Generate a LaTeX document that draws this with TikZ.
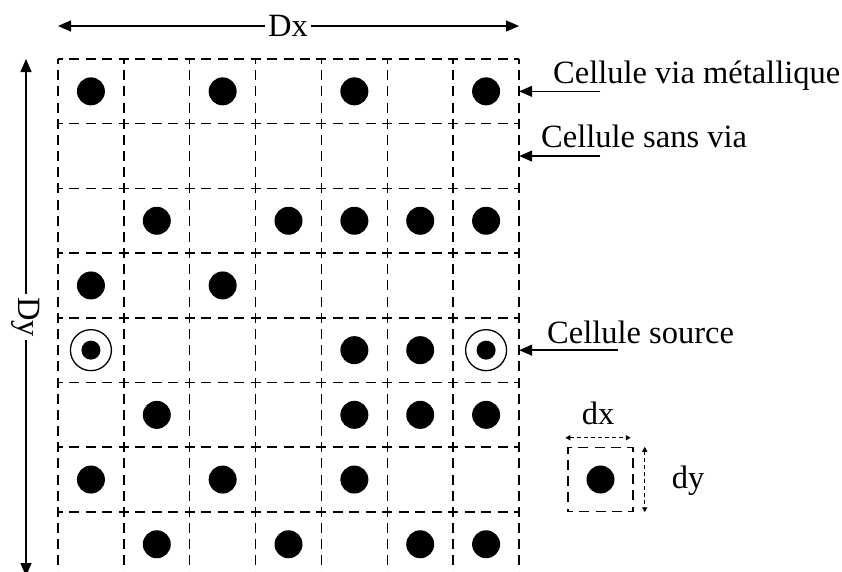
\documentclass[tikz,border=0pt]{standalone}
\usepackage{fontspec}
\setmainfont{Liberation Serif}
\usetikzlibrary{arrows.meta}

\begin{document}
\begin{tikzpicture}[x=1pt,y=-1pt,
  cell/.style={minimum width=65.86pt,minimum height=64.7pt,inner sep=0pt},
  trait h/.style={line width=1.5pt,dash pattern=on 10pt off 6.465pt,dash phase=5pt},
  trait v/.style={line width=1.5pt,dash pattern=on 10pt off 6.175pt,dash phase=5pt},
  via/.style={circle,fill=black,inner sep=0pt,minimum size=28pt},
  source/.style={circle,draw,line width=1.3pt,inner sep=0pt,minimum size=41pt},
  lbl/.style={font=\fontsize{32.5}{38}\selectfont,inner sep=0pt},
  fleche/.style={-{Triangle[length=13pt,width=11pt]},line width=1.5pt},
  cote/.style={{Triangle[length=5pt,width=5pt]}-{Triangle[length=5pt,width=5pt]},dash pattern=on 4pt off 3pt,line width=1.2pt}]
\useasboundingbox (0,0) rectangle (842,571);
\clip (0,0) rectangle (842,571);

% grille des cellules
\foreach \r in {1,...,8}
  \foreach \c in {1,...,7}
    \node[cell] (c-\r-\c) at ({58+65.86*(\c-0.5)},{59+64.7*(\r-0.5)}) {};
\foreach \r in {0,...,8}
  \draw[trait h] (58,{59+64.7*\r}) -- (519,{59+64.7*\r});
\foreach \c in {0,...,7}
  \draw[trait v] ({58+65.86*\c},59) -- ({58+65.86*\c},576.6);

% vias metalliques
\foreach \r/\c in {1/1,1/3,1/5,1/7, 3/2,3/4,3/5,3/6,3/7, 4/1,4/3, 5/5,5/6,
                   6/2,6/5,6/6,6/7, 7/1,7/3,7/5, 8/2,8/4,8/6,8/7}
  \node[via] (v-\r-\c) at (c-\r-\c) {};

% cellules source
\foreach \c in {1,7}
{\node[source] (s-\c) at (c-5-\c) {};
 \node[via,minimum size=19pt] (vs-\c) at (c-5-\c) {};}

% cotes Dx et Dy
\node[lbl,fill=white,inner sep=3pt] (dx) at (288,26) {Dx};
\coordinate (dxg) at (58,26);
\coordinate (dxd) at (519,26);
\draw[fleche] (dx) -- (dxg);
\draw[fleche] (dx) -- (dxd);

\node[lbl,rotate=-90,fill=white,inner sep=3pt] (dy) at (26,317) {Dy};
\coordinate (dyh) at (26,59);
\coordinate (dyb) at (26,576);
\draw[fleche] (dy) -- (dyh);
\draw[fleche] (dy) -- (dyb);

% legendes
\node[lbl,anchor=base west] (lvia) at (553,83) {Cellule via métallique};
\path (c-1-7.east) ++(81,0) coordinate (fvia);
\draw[fleche] (fvia) -- (c-1-7.east);

\node[lbl,anchor=base west] (lsans) at (541,147) {Cellule sans via};
\path (c-2-7.east) ++(81,0) coordinate (fsans);
\draw[fleche] (fsans) -- (c-2-7.east);

\node[lbl,anchor=base west] (lsrc) at (547,343) {Cellule source};
\path (c-5-7.east) ++(99,0) coordinate (fsrc);
\draw[fleche] (fsrc) -- (c-5-7.east);

% cellule unitaire
\node[draw,trait h,dash pattern=on 10pt off 6.25pt,minimum width=65pt,minimum height=64pt,inner sep=0pt] (unit) at (600.5,479.5) {};
\node[via] (vunit) at (unit) {};
\path (unit.north west) ++(-2,-9) coordinate (dxa);
\path (unit.north east) ++(-3,-9) coordinate (dxb);
\draw[cote] (dxa) -- (dxb);
\node[lbl] (ldx) at (598,413) {dx};
\path (unit.north east) ++(11,0) coordinate (dya);
\path (unit.south east) ++(11,0) coordinate (dyb2);
\draw[cote] (dya) -- (dyb2);
\node[lbl] (ldy) at (688,481) {dy};
\end{tikzpicture}
\end{document}
